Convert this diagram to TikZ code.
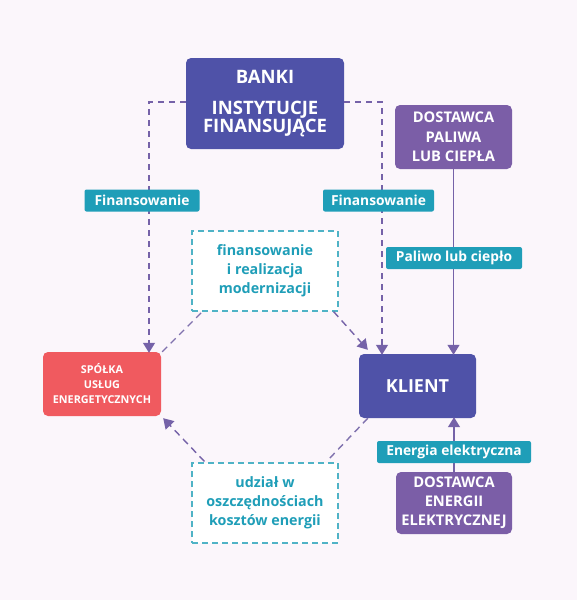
\documentclass[tikz,border=0pt]{standalone}
\usepackage{fontspec}
\setmainfont{Open Sans}
\usetikzlibrary{arrows.meta}
\definecolor{bg}{HTML}{FBF6FB}
\definecolor{navy}{HTML}{4F52A8}
\definecolor{violet}{HTML}{7B5EA7}
\definecolor{coral}{HTML}{F05A5F}
\definecolor{teal}{HTML}{1F9EB8}
\definecolor{tealline}{HTML}{4FB3C6}
\definecolor{dashc}{HTML}{938DB0}
\definecolor{diagc}{HTML}{8072AE}
\definecolor{arrowc}{HTML}{7562A8}
\definecolor{solidc}{HTML}{8C77B5}
\tikzset{
  box/.style={rounded corners=5pt, text=white, align=center, font=\bfseries, inner sep=0pt},
  lbl/.style={fill=teal, rounded corners=2pt, text=white, font=\bfseries\fontsize{13.8}{15}\selectfont, inner sep=0pt, minimum height=22pt},
  dbox/.style={draw=tealline, dashed, dash pattern=on 6pt off 4pt, line width=1.2pt, fill=white, text=teal, align=center,
    font=\bfseries\fontsize{14.3}{19}\selectfont, minimum width=146pt, minimum height=80pt, inner sep=0pt},
  dline/.style={draw=dashc, line width=1.3pt, dash pattern=on 6pt off 5pt},
  diag/.style={draw=diagc, line width=1.4pt, dash pattern=on 7pt off 5pt},
  tip/.style={-{Triangle[width=12pt,length=10pt]}, arrowc},
  sline/.style={draw=solidc, line width=1.3pt},
}
\begin{document}
\begin{tikzpicture}[x=1pt,y=-1pt]
\fill[bg] (0,0) rectangle (577,600);
\useasboundingbox (0,0) rectangle (577,600);

\node[box, fill=navy, minimum width=158pt, minimum height=91pt, font=\bfseries\fontsize{18.5}{18}\selectfont] (banki) at (265,103.5)
  {BANKI\\[13pt]INSTYTUCJE\\FINANSUJĄCE};
\node[box, fill=violet, minimum width=117pt, minimum height=64pt, font=\bfseries\fontsize{14.7}{19.5}\selectfont] (dpal) at (453.5,137)
  {DOSTAWCA\\PALIWA\\LUB CIEPŁA};
\node[box, fill=coral, minimum width=118pt, minimum height=64pt, font=\bfseries\fontsize{10.8}{15}\selectfont] (esco) at (102,384)
  {SPÓŁKA\\USŁUG\\ENERGETYCZNYCH};
\node[box, fill=navy, minimum width=117pt, minimum height=64pt, font=\bfseries\fontsize{18}{22}\selectfont] (klient) at (417.5,386)
  {KLIENT};
\node[box, fill=violet, minimum width=116pt, minimum height=62pt, font=\bfseries\fontsize{14.7}{19}\selectfont] (dene) at (454,503)
  {DOSTAWCA\\ENERGII\\ELEKTRYCZNEJ};

\node[dbox] (topb) at (265,271) {finansowanie\\i realizacja\\modernizacji};
\node[dbox] (botb) at (265,503) {udział w\\oszczędnościach\\kosztów energii};

% dashed financing lines
\draw[dline, tip] ([yshift=1.5pt]banki.west) -| ([xshift=47pt,yshift=-1pt]esco.north);
\draw[dline, tip] ([yshift=1.5pt]banki.east) -| ([xshift=-35.5pt,yshift=-1pt]klient.north);

% solid supply lines
\draw[sline, tip] (dpal.south) -- ([yshift=-1pt]klient.north -| dpal.south);
\draw[sline, tip] (dene.north) -- ([yshift=1pt]klient.south -| dene.north);

% diagonal dashed lines
\draw[diag] ([xshift=1pt]esco.north east) -- ([xshift=11pt]topb.south west);
\draw[diag, tip] ([xshift=-5pt]topb.south east) -- ([xshift=9pt,yshift=4pt]klient.north west);
\draw[diag] ([xshift=9pt]klient.south west) -- ([xshift=-10pt,yshift=3pt]botb.north east);
\draw[diag, tip] ([xshift=13pt,yshift=1pt]botb.north west) -- ([xshift=2pt,yshift=-2pt]esco.south east);

% labels
\node[lbl, minimum width=115pt] (lf1) at (142,200.5) {Finansowanie};
\node[lbl, minimum width=111pt] (lf2) at (378.5,200.5) {Finansowanie};
\node[lbl, minimum width=136pt] (lpal) at (454,258) {Paliwo lub ciepło};
\node[lbl, minimum width=154pt] (lene) at (454,452) {Energia elektryczna};
\end{tikzpicture}
\end{document}
